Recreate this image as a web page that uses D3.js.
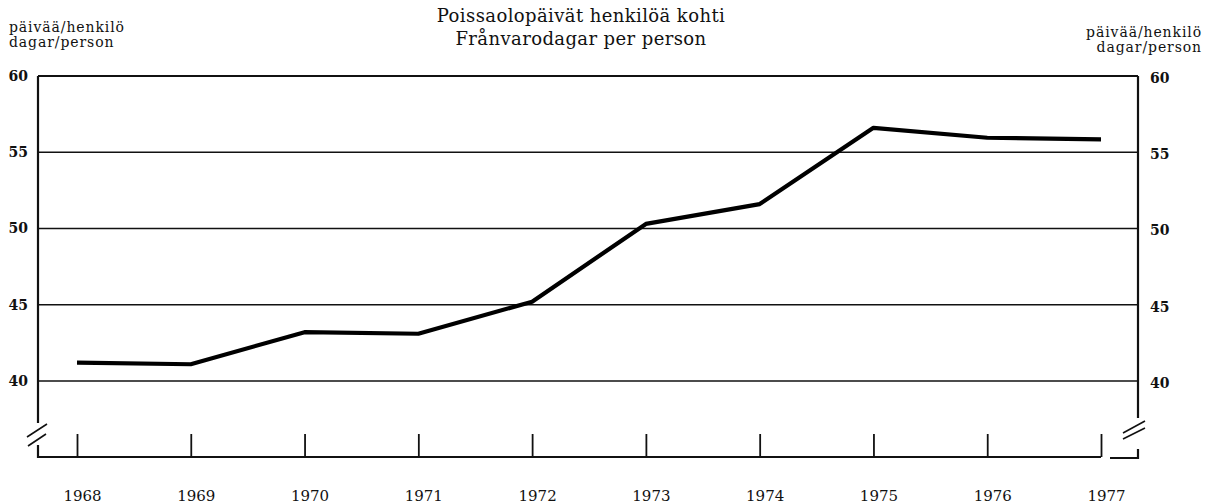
<!DOCTYPE html>
<html>
<head>
<meta charset="utf-8">
<script src="https://cdn.jsdelivr.net/npm/d3@7"></script>
<style>
  body { margin: 0; background: #fff; }
  svg { display: block; }
  text { font-family: "DejaVu Serif", "Liberation Serif", serif; fill: #111; }
</style>
</head>
<body>
<div class="chart"></div>
<script>
// data
var years = [1968, 1969, 1970, 1971, 1972, 1973, 1974, 1975, 1976, 1977];
var days = [41.2, 41.1, 43.2, 43.1, 45.2, 50.3, 51.6, 56.6, 55.95, 55.85];
var yTicks = [40, 45, 50, 55, 60];
var titleLines = ["Poissaolopäivät henkilöä kohti", "Frånvarodagar per person"];
var unitLines = ["päivää/henkilö", "dagar/person"];

var width = 1208, height = 504;
var plotL = 38, plotR = 1138, plotT = 76, base = 457;

var svg = d3.select(".chart").append("svg")
  .attr("width", width).attr("height", height);

var x = d3.scaleLinear().domain([1968, 1977]).range([77, 1101]);
var y = d3.scaleLinear().domain([40, 60]).range([381, plotT]);

// horizontal grid lines
svg.append("g")
  .selectAll("line")
  .data(yTicks)
  .enter()
  .append("line")
  .attr("x1", plotL).attr("x2", plotR)
  .attr("y1", d => y(d)).attr("y2", d => y(d))
  .attr("stroke", "#111")
  .attr("stroke-width", d => d == 60 ? 2 : 1.3);

// vertical frame with breaks
var frame = svg.append("g").attr("stroke", "#111").attr("fill", "none");
frame.append("path")
  .attr("stroke-width", 2.2)
  .attr("d", "M" + plotL + "," + plotT + "V423 M" + plotL + ",445V" + base + "H1101");
frame.append("path")
  .attr("stroke-width", 2.2)
  .attr("d", "M" + plotR + "," + plotT + "V418 M" + plotR + ",449V" + (base + 1) + "H1110");
// break marks
frame.append("path")
  .attr("stroke-width", 1.6)
  .attr("d", "M27,437L47,424 M28,446L46,434 M1123,433L1145,421 M1123,439L1145,428");

// left and right value labels
var yAxisL = d3.axisLeft(y).tickValues(yTicks).tickSize(0).tickPadding(10);
var gl = svg.append("g").attr("transform", "translate(" + plotL + ",0)").call(yAxisL);
var yAxisR = d3.axisRight(y).tickValues(yTicks).tickSize(0).tickPadding(12);
var gr = svg.append("g").attr("transform", "translate(" + plotR + ",2)").call(yAxisR);
[gl, gr].forEach(function (g) {
  g.select(".domain").remove();
  g.selectAll("text")
    .style("font-family", "\"DejaVu Serif\", serif")
    .style("font-size", "14px")
    .style("font-weight", "bold")
    .attr("fill", "#111");
});

// year axis, ticks pointing up from baseline
var xAxis = d3.axisBottom(x).tickValues(years).tickFormat(d3.format("d"))
  .tickSize(-23).tickPadding(33);
var gx = svg.append("g").attr("transform", "translate(0," + base + ")").call(xAxis);
gx.select(".domain").remove();
gx.selectAll("line").attr("stroke", "#111").attr("stroke-width", 1.8);
gx.selectAll("text")
  .attr("dx", 5)
  .style("font-family", "\"DejaVu Serif\", serif")
  .style("font-size", "15px")
  .attr("fill", "#111");

// data line
var line = d3.line()
  .x((d, i) => x(years[i]))
  .y(d => y(d));
svg.append("path")
  .datum(days)
  .attr("d", line)
  .attr("fill", "none")
  .attr("stroke", "#000")
  .attr("stroke-width", 4.2)
  .attr("stroke-linejoin", "round");

// title
svg.append("g")
  .selectAll("text")
  .data(titleLines)
  .enter()
  .append("text")
  .attr("x", 581)
  .attr("y", (d, i) => 22 + i * 23)
  .attr("text-anchor", "middle")
  .style("font-size", "18px")
  .style("letter-spacing", "0.4px")
  .text(d => d);

// unit labels both sides
svg.append("g")
  .selectAll("text")
  .data(unitLines)
  .enter()
  .append("text")
  .attr("x", 9)
  .attr("y", (d, i) => 32 + i * 15)
  .style("font-size", "14px")
  .style("letter-spacing", "0.9px")
  .text(d => d);
svg.append("g")
  .selectAll("text")
  .data(unitLines)
  .enter()
  .append("text")
  .attr("x", 1202)
  .attr("y", (d, i) => 37 + i * 15)
  .attr("text-anchor", "end")
  .style("font-size", "14px")
  .style("letter-spacing", "0.9px")
  .text(d => d);
</script>
</body>
</html>
